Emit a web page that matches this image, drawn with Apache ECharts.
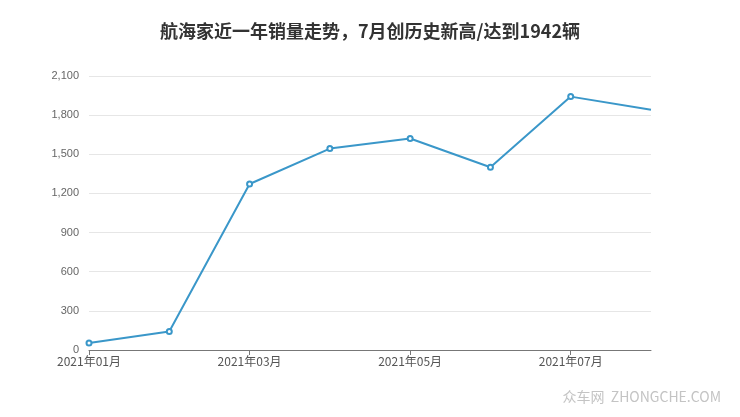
<!DOCTYPE html>
<html><head><meta charset="utf-8">
<script src="https://cdn.jsdelivr.net/npm/echarts@6/dist/echarts.min.js"></script>
<style>html,body{margin:0;padding:0;background:#fff}#c{width:740px;height:417px}</style>
</head><body><div id="c"></div>
<script>
const categories = ['2021年01月','2021年02月','2021年03月','2021年04月','2021年05月','2021年06月','2021年07月','2021年08月'];
const sales = [54, 142, 1272, 1544, 1621, 1401, 1942, 1842];
const titleText = '航海家近一年销量走势，7月创历史新高/达到1942辆';
const watermark = '众车网  ZHONGCHE.COM';

const chart = echarts.init(document.getElementById('c'));
chart.setOption({
  animation: false,
  title: {
    text: titleText, left: 'center', top: 17,
    textStyle: {fontSize: 18, fontWeight: 'bold', color: '#333', fontFamily: 'Noto Sans CJK SC'}
  },
  graphic: [{
    type: 'text', right: 19, top: 390,
    style: {text: watermark, fontSize: 14, fill: '#c4c4c4', fontFamily: 'Noto Sans CJK SC'}
  }],
  grid: {left: 89, right: 89, top: 76, bottom: 67, containLabel: false},
  xAxis: {
    type: 'category', data: categories, boundaryGap: false,
    axisLine: {lineStyle: {color: '#777', width: 1}},
    axisTick: {interval: 1, length: 5, lineStyle: {color: '#777'}},
    axisLabel: {interval: 1, color: '#555', fontSize: 12, margin: 5, fontFamily: 'Noto Sans CJK SC'}
  },
  yAxis: {
    type: 'value', min: 0, max: 2100, interval: 300,
    axisLine: {show: false}, axisTick: {show: false},
    axisLabel: {color: '#666', fontSize: 11, margin: 10,
      formatter: v => v.toLocaleString('en-US')},
    splitLine: {lineStyle: {color: '#e6e6e6'}}
  },
  series: [{
    type: 'line', data: sales.map((v, i) => i === sales.length - 1 ? {value: v, symbol: 'none'} : v),
    symbol: 'emptyCircle', symbolSize: 5,
    lineStyle: {color: '#3a97c9', width: 2},
    itemStyle: {color: '#3a97c9', borderWidth: 1.5}
  }]
});
</script></body></html>
